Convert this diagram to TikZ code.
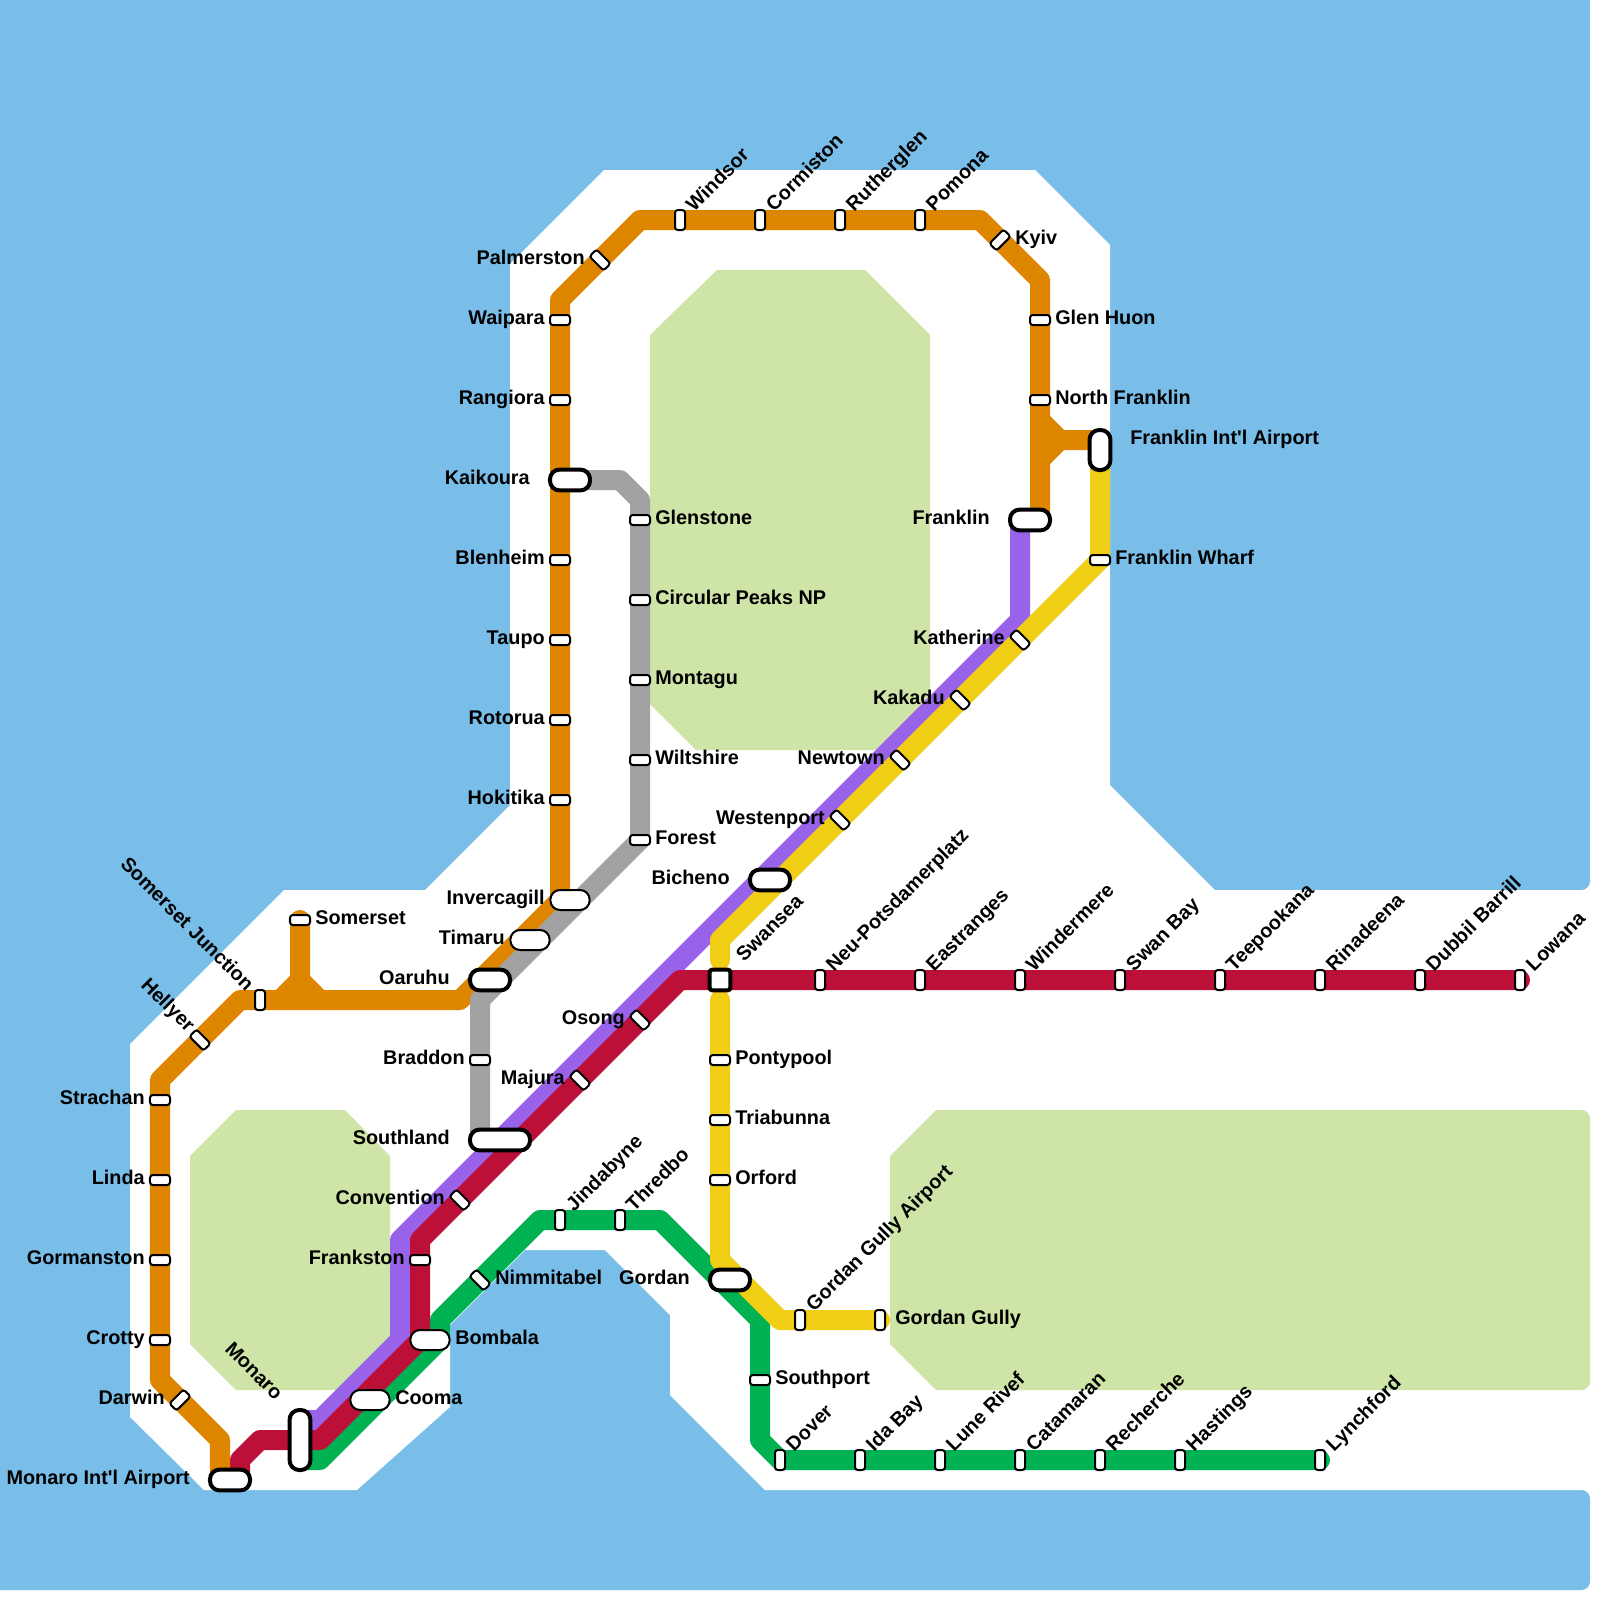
\documentclass[tikz,border=0pt]{standalone}
\usepackage{fontspec}
\newfontfamily\stationfont{Liberation Sans}
\definecolor{watercol}{HTML}{79BDE9}
\definecolor{parkcol}{HTML}{CFE4A7}
\definecolor{orangeline}{HTML}{DF8600}
\definecolor{greyline}{HTML}{A2A2A2}
\definecolor{purpleline}{HTML}{9963E9}
\definecolor{redline}{HTML}{BD1038}
\definecolor{greenline}{HTML}{00B251}
\definecolor{yellowline}{HTML}{F0CE15}
\tikzset{
  metro/.style={line width=0.5cm, line cap=round, line join=round},
  stop/.style={draw=black, fill=white, line width=0.05cm, rectangle, inner sep=0pt, minimum width=0.5cm, minimum height=0.25cm, rounded corners=0.07cm},
  hub/.style={draw=black, fill=white, rectangle, inner sep=0pt, line width=0.05cm, rounded corners=0.24cm},
  bighub/.style={hub, line width=0.1cm},
  lbl/.style={inner sep=0pt, text=black, font=\stationfont\fontsize{14.1}{16}\selectfont\bfseries},
  lblleft/.style={lbl, anchor=base east},
  lblright/.style={lbl, anchor=base west},
  lblup/.style={lbl, anchor=base west, rotate=45},
  lbldown/.style={lbl, anchor=base east, rotate=-45}
}
\begin{document}
\begin{tikzpicture}[x=0.025cm,y=-0.025cm]
\useasboundingbox (0,0) rectangle (1600,1600);
\fill[watercol] (0,0) -- (1590,0) -- (1590,1582) .. controls (1590,1586) and (1586,1590) .. (1582,1590) -- (0,1590) -- cycle;
\fill[white] (604,170) -- (1035,170) -- (1110,245) -- (1110,785) -- (1215,890) -- (1582,890) .. controls (1586,890) and (1590,886) .. (1590,882) -- (1600,882) -- (1600,1498) -- (1590,1498) .. controls (1590,1494) and (1586,1490) .. (1582,1490) -- (765,1490) -- (670,1395) -- (670,1315) -- (605,1250) -- (525,1250) -- (450,1325) -- (450,1407) -- (357,1490) -- (204,1490) -- (130,1417) -- (130,1044) -- (284,890) -- (425,890) -- (510,805) -- (510,264) -- cycle;
\fill[parkcol] (717,270) -- (865,270) -- (930,335) -- (930,704) -- (884,750) -- (696,750) -- (650,704) -- (650,335) -- cycle;
\fill[parkcol] (236,1110) -- (345,1110) -- (390,1156) -- (390,1344) -- (344,1390) -- (236,1390) -- (190,1344) -- (190,1156) -- cycle;
\fill[parkcol] (936,1110) -- (1582,1110) .. controls (1586,1110) and (1590,1114) .. (1590,1118) -- (1590,1382) .. controls (1590,1386) and (1586,1390) .. (1582,1390) -- (936,1390) -- (890,1344) -- (890,1156) -- cycle;
\draw[metro, greenline] (300,1460) -- (320,1460) -- (440,1340) -- (440,1320) -- (540,1220) -- (660,1220) -- (760,1320) -- (760,1440) -- (780,1460) -- (1320,1460);
\draw[metro, purpleline] (1020,520) -- (1020,620) -- (400,1240) -- (400,1340) -- (320,1420) -- (300,1420);
\draw[metro, redline] (1520,980) -- (680,980) -- (420,1240) -- (420,1340) -- (320,1440) -- (260,1440) -- (240,1460) -- (240,1478);
\draw[metro, orangeline] (220,1478) -- (220,1440) -- (160,1380) -- (160,1080) -- (240,1000) -- (460,1000) -- (560,900) -- (560,300) -- (640,220) -- (980,220) -- (1040,280) -- (1040,520);
\draw[metro, orangeline] (300,920) -- (300,980) -- (320,1000);
\draw[metro, orangeline] (300,980) -- (280,1000);
\draw[metro, orangeline] (1040,420) -- (1060,440) -- (1100,440);
\draw[metro, orangeline] (1060,440) -- (1040,460);
\draw[metro, greyline] (570,480) -- (620,480) -- (640,500) -- (640,840) -- (480,1000) -- (480,1140);
\draw[metro, yellowline] (1100,450) -- (1100,560) -- (720,940) -- (720,960);
\draw[metro, yellowline] (720,1000) -- (720,1260) -- (780,1320) -- (880,1320);
\foreach \txt/\x/\y in {Strachan/160/1100, Linda/160/1180, Gormanston/160/1260, Crotty/160/1340, Hokitika/560/800, Rotorua/560/720, Taupo/560/640, Blenheim/560/560, Rangiora/560/400, Waipara/560/320, Braddon/480/1060, Frankston/420/1260} {
  \node[stop] (\txt) at (\x,\y) {};
  \node[lblleft] (\txt-l) at (\x-15,\y+4.3) {\txt};
}
\foreach \txt/\x/\y in {Somerset/300/920, Glen Huon/1040/320, North Franklin/1040/400, Glenstone/640/520, Circular Peaks NP/640/600, Montagu/640/680, Wiltshire/640/760, Forest/640/840, Franklin Wharf/1100/560, Pontypool/720/1060, Triabunna/720/1120, Orford/720/1180, Southport/760/1380} {
  \node[stop] (\txt) at (\x,\y) {};
  \node[lblright] (\txt-l) at (\x+15,\y+4.3) {\txt};
}
\foreach \txt/\x/\y in {Windsor/680/220, Cormiston/760/220, Rutherglen/840/220, Pomona/920/220, Neu-Potsdamerplatz/820/980, Eastranges/920/980, Windermere/1020/980, Swan Bay/1120/980, Teepookana/1220/980, Rinadeena/1320/980, Dubbil Barrill/1420/980, Lowana/1520/980, Jindabyne/560/1220, Thredbo/620/1220, Gordan Gully Airport/800/1320, Dover/780/1460, Ida Bay/860/1460, Lune Rivef/940/1460, Catamaran/1020/1460, Recherche/1100/1460, Hastings/1180/1460, Lynchford/1320/1460} {
  \node[stop, rotate=90] (\txt) at (\x,\y) {};
  \node[lblup] (\txt-l) at (\x+14,\y-7.5) {\txt};
}
\foreach \txt/\x/\y in {Palmerston/600/260, Katherine/1020/640, Kakadu/960/700, Newtown/900/760, Westenport/840/820, Osong/640/1020, Majura/580/1080, Convention/460/1200} {
  \node[stop, rotate=-45] (\txt) at (\x,\y) {};
  \node[lblleft] (\txt-l) at (\x-15,\y+4.3) {\txt};
}
\node[stop, rotate=-45] (hellyer) at (200,1040) {};
\node[lbldown] (hellyer-l) at (187,1033) {Hellyer};
\node[stop, rotate=90] (junction) at (260,1000) {};
\node[lbldown] (junction-l) at (246,992) {Somerset Junction};
\node[stop, rotate=45] (darwin) at (180,1400) {};
\node[lblleft] (darwin-l) at (165,1404.3) {Darwin};
\node[stop, rotate=45] (kyiv) at (1000,240) {};
\node[lblright] (kyiv-l) at (1015,244.3) {Kyiv};
\node[stop, rotate=-45] (nimmitabel) at (480,1280) {};
\node[lblright] (nimmitabel-l) at (495,1284.3) {Nimmitabel};
\node[stop, rotate=90] (gully) at (880,1320) {};
\node[lblright] (gully-l) at (895,1324.3) {Gordan Gully};
\node[hub, minimum width=0.98cm, minimum height=0.5cm] (invercagill) at (570,900) {};
\node[lblleft] (invercagill-l) at (545,904.3) {Invercagill};
\node[hub, minimum width=0.98cm, minimum height=0.5cm] (timaru) at (530,940) {};
\node[lblleft] (timaru-l) at (505,944.3) {Timaru};
\node[hub, minimum width=0.98cm, minimum height=0.5cm] (bombala) at (430,1340) {};
\node[lblright] (bombala-l) at (455,1344.3) {Bombala};
\node[hub, minimum width=0.98cm, minimum height=0.5cm] (cooma) at (370,1400) {};
\node[lblright] (cooma-l) at (395,1404.3) {Cooma};
\node[bighub, minimum width=1cm, minimum height=0.52cm] (oaruhu) at (490,980) {};
\node[lblleft] (oaruhu-l) at (450,984.3) {Oaruhu};
\node[bighub, minimum width=1cm, minimum height=0.52cm] (kaikoura) at (570,480) {};
\node[lblleft] (kaikoura-l) at (530,484.3) {Kaikoura};
\node[bighub, minimum width=1cm, minimum height=0.52cm] (franklin) at (1030,520) {};
\node[lblleft] (franklin-l) at (990,524.3) {Franklin};
\node[bighub, minimum width=1cm, minimum height=0.52cm] (bicheno) at (770,880) {};
\node[lblleft] (bicheno-l) at (730,884.3) {Bicheno};
\node[bighub, minimum width=1cm, minimum height=0.52cm] (gordan) at (730,1280) {};
\node[lblleft] (gordan-l) at (690,1284.3) {Gordan};
\node[bighub, minimum width=1cm, minimum height=0.52cm] (airport) at (230,1480) {};
\node[lblleft] (airport-l) at (190,1484.3) {Monaro Int'l Airport};
\node[bighub, minimum width=1.5cm, minimum height=0.52cm] (southland) at (500,1140) {};
\node[lblleft] (southland-l) at (450,1144.3) {Southland};
\node[bighub, minimum width=0.52cm, minimum height=1cm] (franklinair) at (1100,450) {};
\node[lblright] (franklinair-l) at (1130,444.3) {Franklin Int'l Airport};
\node[bighub, minimum width=0.52cm, minimum height=1.5cm] (monaro) at (300,1440) {};
\node[lbldown] (monaro-l) at (275,1401) {Monaro};
\node[bighub, minimum width=0.52cm, minimum height=0.52cm, rounded corners=0.07cm] (swansea) at (720,980) {};
\node[lblup] (swansea-l) at (744,963) {Swansea};
\end{tikzpicture}
\end{document}
